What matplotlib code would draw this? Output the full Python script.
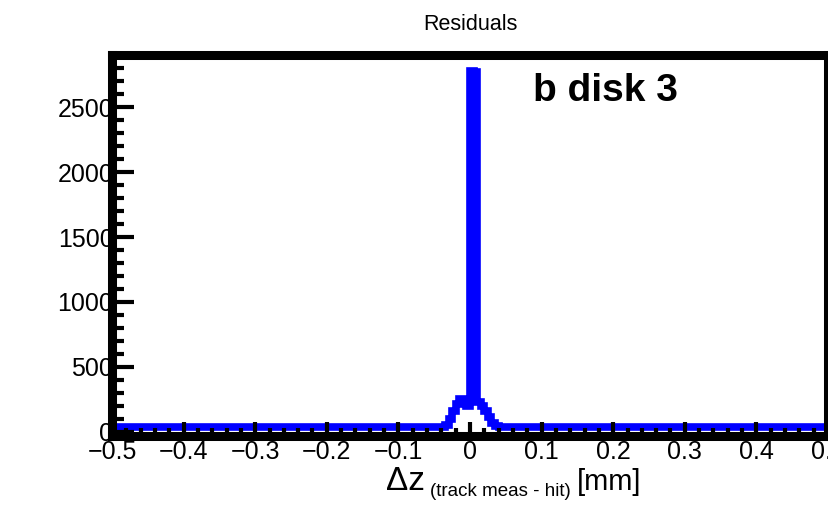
import matplotlib
matplotlib.use('Agg')
import numpy as np
import matplotlib.pyplot as plt
from matplotlib.ticker import MultipleLocator, FuncFormatter

plt.rcParams['font.family'] = ['Liberation Sans', 'DejaVu Sans']

# histogram: 200 bins of 0.005 mm from -0.5 to 0.5
x_min, x_max = -0.5, 0.5
n_bins = 200

# bins -0.5 .. -0.04 (92 bins), read as flat background
left_counts = [
    36, 36, 36, 36, 36, 36, 36, 36, 36, 36, 36, 36, 36, 36, 36, 36, 36, 36, 36, 36,
    36, 36, 36, 36, 36, 36, 36, 36, 36, 36, 36, 36, 36, 36, 36, 36, 36, 36, 36, 36,
    36, 36, 36, 36, 36, 36, 36, 36, 36, 36, 36, 36, 36, 36, 36, 36, 36, 36, 36, 36,
    36, 36, 36, 36, 36, 36, 36, 36, 36, 36, 36, 36, 36, 36, 36, 36, 36, 36, 36, 36,
    36, 36, 36, 36, 36, 36, 36, 36, 37, 37, 38, 38,
]
# bins -0.04 .. 0.04 (16 bins), the peak
peak_counts = [40, 52, 100, 160, 215, 255, 230, 200,
               2780, 2775, 230, 200, 160, 110, 70, 45]
# bins 0.04 .. 0.5 (92 bins)
right_counts = [
    38, 38, 37, 37, 36, 36, 36, 36, 36, 36, 36, 36, 36, 36, 36, 36, 36, 36, 36, 36,
    36, 36, 36, 36, 36, 36, 36, 36, 36, 36, 36, 36, 36, 36, 36, 36, 36, 36, 36, 36,
    36, 36, 36, 36, 36, 36, 36, 36, 36, 36, 36, 36, 36, 36, 36, 36, 36, 36, 36, 36,
    36, 36, 36, 36, 36, 36, 36, 36, 36, 36, 36, 36, 36, 36, 36, 36, 36, 36, 36, 36,
    36, 36, 36, 36, 36, 36, 36, 36, 36, 36, 36, 36,
]

title = 'Residuals'
label = 'b disk 3'


def main():
    counts = np.array(left_counts + peak_counts + right_counts, dtype=float)
    edges = np.linspace(x_min, x_max, n_bins + 1)

    fig = plt.figure(figsize=(8.29, 5.24), dpi=100)
    ax = fig.add_axes([112 / 829, 1 - 436 / 524, 716 / 829, (436 - 54.5) / 524])

    ax.stairs(counts, edges, baseline=None, color='#0000ff', lw=5.5, zorder=1)

    ax.set_xlim(x_min, x_max)
    ax.set_ylim(-33, 2906)
    ax.set_axisbelow(False)

    for sp in ax.spines.values():
        sp.set_linewidth(6.5)
        sp.set_zorder(3)

    ax.xaxis.set_major_locator(MultipleLocator(0.1))
    ax.xaxis.set_minor_locator(MultipleLocator(0.02))
    ax.yaxis.set_major_locator(MultipleLocator(500))
    ax.yaxis.set_minor_locator(MultipleLocator(100))
    ax.xaxis.set_major_formatter(FuncFormatter(
        lambda v, p: ('%g' % round(v, 2)).replace('-', '\u2212')))
    ax.yaxis.set_major_formatter(FuncFormatter(lambda v, p: '%d' % v))

    ax.tick_params(axis='both', which='both', direction='in', width=3,
                   labelsize=18, top=False, right=False)
    ax.tick_params(axis='y', which='major', length=16, pad=-1)
    ax.tick_params(axis='y', which='minor', length=8.5)
    ax.tick_params(axis='x', which='major', length=10, pad=3)
    ax.tick_params(axis='x', which='minor', length=6)

    fig.text(470 / 829, 1 - 25 / 524, title, ha='center', va='center', fontsize=15.5)
    fig.text(533 / 829, 1 - 101 / 524, label, ha='left', va='baseline',
             fontsize=28, fontweight='bold')

    # x axis title built from pieces: big / small / big
    r = fig.canvas.get_renderer()
    y_base = 1 - 490 / 524
    t1 = fig.text(386 / 829, y_base, '\u0394z', fontsize=24, va='baseline')
    bb = t1.get_window_extent(r)
    t2 = fig.text(bb.x1 / 829 + 5 / 829, 1 - 496 / 524, '(track meas - hit)',
                  fontsize=13.5, va='baseline')
    bb = t2.get_window_extent(r)
    fig.text(bb.x1 / 829 + 6 / 829, y_base, '[mm]', fontsize=21, va='baseline')

    fig.savefig('out.png', dpi=100)


if __name__ == '__main__':
    main()
